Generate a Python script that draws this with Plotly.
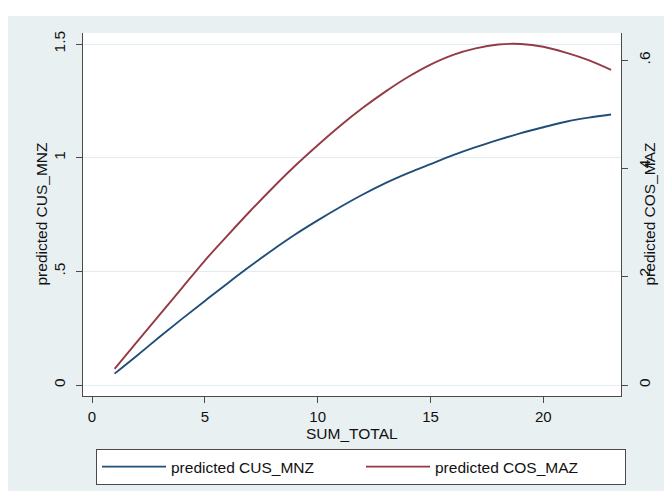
import plotly.graph_objects as go

# ---- data ----
sum_total = list(range(1, 24))
pred_cus_mnz = [0.05, 0.13, 0.212, 0.292, 0.37, 0.447, 0.522, 0.594, 0.662, 0.724,
                0.783, 0.838, 0.888, 0.932, 0.972, 1.011, 1.046, 1.078, 1.108, 1.134,
                1.158, 1.176, 1.19]
pred_cos_maz = [0.03, 0.08, 0.13, 0.18, 0.23, 0.276, 0.321, 0.364, 0.405, 0.443,
                0.479, 0.512, 0.542, 0.569, 0.592, 0.61, 0.622, 0.629, 0.63, 0.625,
                0.614, 0.6, 0.582]

x_ticks = [0, 5, 10, 15, 20]
x_tick_labels = ["0", "5", "10", "15", "20"]
y1_ticks = [0, 0.5, 1, 1.5]
y1_tick_labels = ["0", ".5", "1", "1.5"]
y2_ticks = [0, 0.2, 0.4, 0.6]
y2_tick_labels = ["0", ".2", ".4", ".6"]

FONT = "Liberation Sans, Arial, sans-serif"
BG = "#e8f0f2"
AX = "#4a4a4a"
BLUE = "#1f4e79"
RED = "#943a45"
TXT = "#111111"

fig = go.Figure()
fig.add_trace(go.Scatter(x=sum_total, y=pred_cus_mnz, mode="lines",
                         name="predicted CUS_MNZ", yaxis="y",
                         line=dict(color=BLUE, width=1.9, shape="spline")))
fig.add_trace(go.Scatter(x=sum_total, y=pred_cos_maz, mode="lines",
                         name="predicted COS_MAZ", yaxis="y2",
                         line=dict(color=RED, width=1.9, shape="spline")))

tickfont = dict(family=FONT, size=15.5, color=TXT)
titlefont = dict(family=FONT, size=15.5, color=TXT)

fig.update_layout(
    template="none",
    width=672, height=491, autosize=False,
    margin=dict(l=75, r=59, t=25, b=103, pad=0),
    paper_bgcolor=BG, plot_bgcolor="white",
    font=dict(family=FONT, size=15.5, color=TXT),
    showlegend=True,
    xaxis=dict(range=[-0.4, 23.44], tickvals=x_ticks, ticktext=x_tick_labels,
               ticks="outside", ticklen=6, tickcolor=AX, tickwidth=1,
               showline=True, linecolor=AX, linewidth=1, mirror=False,
               showgrid=False, zeroline=False,
               tickfont=dict(family=FONT, size=15, color=TXT),
               ticklabelstandoff=1, automargin=False),
    yaxis=dict(range=[-0.0484, 1.5484], tickvals=y1_ticks, ticktext=y1_tick_labels,
               tickangle=-90, ticks="outside", ticklen=6, tickcolor=AX, tickwidth=1,
               showline=True, linecolor=AX, linewidth=1,
               showgrid=True, gridcolor="#e3ecee", gridwidth=1,
               zeroline=False, tickfont=tickfont, ticklabelstandoff=5,
               automargin=False),
    yaxis2=dict(range=[-0.0203, 0.6503], tickvals=y2_ticks, ticktext=y2_tick_labels,
                overlaying="y", side="right", anchor="x",
                tickangle=-90, ticks="outside", ticklen=6, tickcolor=AX, tickwidth=1,
                showline=True, linecolor=AX, linewidth=1,
                showgrid=False, zeroline=False, tickfont=tickfont,
                ticklabelstandoff=3, automargin=False),
    legend=dict(orientation="h", x=13 / 538, xanchor="left", y=(388 - 441) / 363,
                yanchor="top", bgcolor="white", bordercolor=AX, borderwidth=1,
                font=dict(family=FONT, size=15.5, color=TXT),
                itemwidth=64, entrywidth=185, entrywidthmode="pixels",
                traceorder="normal"),
    annotations=[
        dict(text="predicted CUS_MNZ", xref="paper", yref="paper",
             x=(33 - 75) / 538, y=0.5, textangle=-90, showarrow=False,
             xanchor="center", yanchor="middle", font=titlefont),
        dict(text="predicted COS_MAZ", xref="paper", yref="paper",
             x=(641 - 75) / 538, y=0.5, textangle=-90, showarrow=False,
             xanchor="center", yanchor="middle", font=titlefont),
        dict(text="SUM_TOTAL", xref="paper", yref="paper",
             x=0.5, y=(388 - 425) / 363, showarrow=False,
             xanchor="center", yanchor="middle", font=titlefont),
    ],
    shapes=[
        dict(type="rect", xref="paper", yref="paper", layer="below",
             x0=-75 / 538, x1=(672 - 75) / 538, y0=1 + 17 / 363, y1=1 + 25 / 363,
             fillcolor="white", line=dict(width=0)),
    ],
)

fig.write_html("out.html")
